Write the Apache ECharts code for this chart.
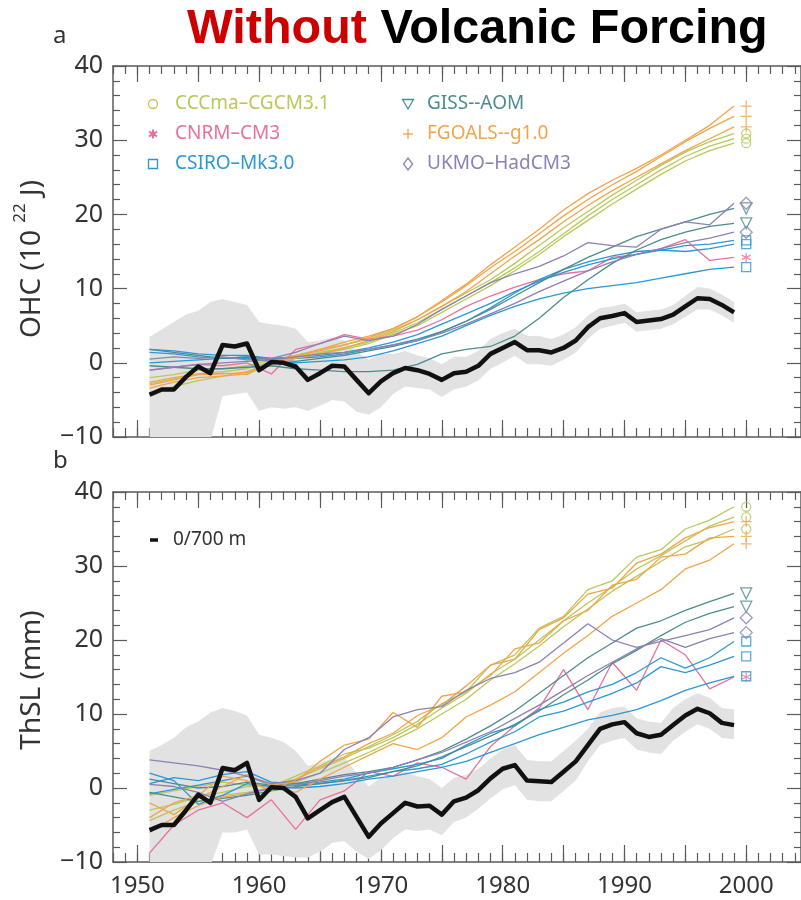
<!DOCTYPE html>
<html>
<head>
<meta charset="utf-8">
<title>Without Volcanic Forcing</title>
<script src="https://cdn.jsdelivr.net/npm/echarts@6/dist/echarts.min.js"></script>
<style>
  html, body { margin: 0; padding: 0; background: #fff; }
  #chart { width: 801px; height: 900px; }
</style>
</head>
<body>
<div id="chart"></div>
<script>
// years for the observed curve and for the model runs
const obsYears = [1951,1952,1953,1954,1955,1956,1957,1958,1959,1960,
  1961,1962,1963,1964,1965,1966,1967,1968,1969,1970,
  1971,1972,1973,1974,1975,1976,1977,1978,1979,1980,
  1981,1982,1983,1984,1985,1986,1987,1988,1989,1990,
  1991,1992,1993,1994,1995,1996,1997,1998,1999]
const runYears = [1951,1953,1955,1957,1959,1961,1963,1965,1967,1969,1971,1973,1975,
  1977,1979,1981,1983,1985,1987,1989,1991,1993,1995,1997,1999]
const labelYears = [1950, 1960, 1970, 1980, 1990, 2000]
const majorTickYears = [1950, 1955, 1960, 1965, 1970, 1975, 1980, 1985, 1990, 1995, 2000]

// panel a : ocean heat content 0-700 m (10^22 J)
const ohcObs = [-4.3,-3.6,-3.6,-1.9,-0.5,-1.4,2.4,2.2,2.6,-1.0,
  0.1,0.0,-0.5,-2.3,-1.4,-0.4,-0.5,-2.3,-4.1,-2.5,
  -1.4,-0.7,-1.0,-1.5,-2.3,-1.4,-1.2,-0.4,1.2,2.0,
  2.8,1.7,1.7,1.4,2.0,3.0,4.8,6.0,6.3,6.7,
  5.5,5.7,5.9,6.5,7.6,8.7,8.6,7.8,6.8]
const ohcLow = [-10.5,-10.5,-10.5,-10.5,-10.5,-10.5,-4.5,-4.2,-4.0,-6.5,
  -6.0,-6.2,-6.0,-6.5,-5.8,-5.0,-5.2,-6.6,-7.0,-6.0,
  -4.2,-3.2,-3.4,-3.6,-4.6,-3.6,-3.2,-2.4,-0.8,0.0,
  1.0,-0.2,-0.2,-0.4,0.4,1.4,3.2,4.6,5.0,5.4,
  4.2,4.4,4.6,5.2,6.2,7.2,7.2,6.4,5.4]
const ohcHigh = [3.5,4.5,5.5,6.5,7.0,8.2,8.6,8.2,7.8,5.5,
  5.2,5.0,4.6,2.8,3.0,3.4,3.0,1.6,0.4,1.2,
  1.2,1.6,1.0,0.6,-0.2,0.8,0.8,1.6,3.2,4.0,
  4.6,3.6,3.6,3.2,3.8,4.8,6.4,7.4,7.6,8.0,
  6.8,7.0,7.2,7.8,9.0,10.2,10.0,9.2,8.2]

const ohcCCCma = [
  [-2.0,-1.6,-1.0,-0.8,-0.4,0.4,1.0,1.8,2.4,3.2,4.4,5.8,7.6,9.4,11.2,13.4,15.8,18.2,20.4,22.6,24.6,26.6,28.4,29.8,30.9],
  [-2.8,-2.2,-1.5,-1.2,-0.8,0.2,0.8,1.4,2.0,2.8,4.0,5.4,7.2,9.0,10.8,12.8,15.0,17.4,19.8,22.0,24.0,26.0,27.8,29.2,30.2],
  [-4.0,-3.2,-2.4,-1.8,-1.2,0.0,0.6,1.2,1.8,2.6,3.8,5.0,6.8,8.6,10.4,12.4,14.6,17.0,19.2,21.4,23.4,25.4,27.2,28.6,29.6]
]
const ohcFGOALS = [
  [-3.0,-2.3,-1.6,-1.5,-1.3,0.0,0.8,1.8,2.8,3.6,4.6,6.2,8.4,10.6,13.2,15.6,18.0,20.6,22.8,24.6,26.2,28.0,30.0,32.0,34.6],
  [-2.6,-2.0,-1.5,-1.4,-1.6,0.2,1.0,1.6,2.4,3.4,4.6,6.2,8.2,10.4,12.8,15.0,17.4,19.8,22.0,24.0,25.8,27.8,29.8,31.6,33.2],
  [-3.4,-2.6,-2.0,-1.8,-1.5,-0.2,0.6,1.2,2.0,3.0,4.2,5.8,7.6,9.6,12.0,14.4,16.6,19.0,21.2,23.2,25.0,26.8,28.6,30.2,31.8]
]
const ohcUKMO = [
  [0.5,0.8,0.6,0.8,0.4,0.6,1.4,2.6,3.6,3.0,3.6,5.2,7.2,9.0,10.8,12.0,13.0,14.4,16.2,15.8,15.6,18.0,19.0,18.6,21.5],
  [-1.0,-0.6,-0.2,0.0,0.2,0.4,0.8,1.2,1.4,1.8,2.4,3.0,4.0,5.2,6.6,8.0,9.6,11.0,12.4,13.6,14.6,15.4,16.2,16.8,17.6]
]
const ohcGISS = [
  [1.8,1.4,1.0,0.6,0.8,0.4,0.2,0.6,1.0,1.6,2.2,3.0,4.2,5.6,7.2,9.0,10.8,12.6,14.2,15.6,17.0,18.0,19.0,20.0,20.8],
  [-0.4,-0.6,-0.8,-0.8,-0.6,-0.4,-0.8,-1.0,-1.2,-1.2,-1.0,-0.2,1.2,1.8,2.2,3.6,6.0,8.8,11.2,13.4,15.2,16.6,17.6,18.4,18.8]
]
const ohcCSIRO = [
  [1.8,1.6,1.2,1.0,1.0,0.6,0.8,1.0,1.4,2.0,2.8,3.8,5.2,6.6,8.0,9.6,11.0,12.2,13.2,14.0,14.6,15.2,15.8,16.0,16.5],
  [0.0,0.2,0.4,0.6,0.8,0.6,0.6,0.8,1.2,1.8,2.4,3.2,4.2,5.6,7.4,9.4,11.2,12.6,13.6,14.4,15.0,15.2,15.0,15.4,16.0],
  [1.4,1.2,0.8,0.6,0.6,0.2,0.0,0.2,0.4,0.8,1.6,2.6,3.6,5.0,6.4,7.6,8.6,9.4,10.0,10.4,10.8,11.4,12.0,12.6,12.9]
]
const ohcCNRM = [
  [-1.0,-0.6,-0.2,-0.4,0.0,-1.5,1.8,2.6,3.8,3.2,3.6,4.4,5.8,7.6,9.0,10.2,11.2,12.0,12.4,14.2,14.6,15.4,16.6,13.8,14.2]
]

// panel b : thermosteric sea level 0-700 m (mm)
const slObs = [-5.7,-5.0,-5.0,-3.0,-0.9,-2.0,2.7,2.4,3.4,-1.6,
  0.1,0.0,-1.2,-4.1,-3.0,-1.9,-1.2,-3.9,-6.6,-4.8,
  -3.4,-2.0,-2.5,-2.4,-3.6,-1.8,-1.3,-0.3,1.3,2.6,
  3.1,1.0,0.9,0.8,2.2,3.6,5.8,8.0,8.6,8.9,
  7.4,6.9,7.2,8.5,9.8,10.7,10.1,8.8,8.5]
const slLow = [-10.5,-10.5,-10.5,-10.5,-10.5,-10.5,-6.0,-6.0,-5.6,-9.0,
  -9.0,-9.2,-9.4,-9.4,-8.6,-7.4,-7.2,-8.6,-9.6,-8.4,
  -6.8,-5.6,-5.8,-5.6,-6.4,-4.6,-4.0,-2.8,-1.4,-0.2,
  0.4,-1.6,-1.8,-1.8,-0.4,1.0,3.6,5.8,6.4,6.8,
  5.2,4.8,4.6,6.4,7.6,8.6,8.0,6.8,6.6]
const slHigh = [5.0,5.8,6.8,8.2,9.0,10.2,10.8,10.4,9.8,7.2,
  6.8,6.2,5.0,3.0,3.4,4.0,4.2,2.0,0.2,1.4,
  1.6,2.2,1.6,1.2,0.0,1.4,1.8,2.6,4.0,5.2,
  5.8,3.8,3.6,3.6,5.0,6.4,8.0,10.2,10.8,11.0,
  9.4,9.0,8.8,10.8,12.0,12.8,12.2,10.8,10.6]

const slCCCma = [
  [-3.0,-2.2,-1.2,-0.6,0.2,0.4,1.2,2.6,4.0,5.6,7.2,9.0,11.4,13.0,16.6,18.0,21.6,23.2,26.8,28.0,31.2,32.2,35.0,36.2,38.0],
  [-1.0,-0.4,0.2,0.8,0.4,0.2,1.6,3.0,4.6,5.4,6.8,8.6,10.8,12.8,15.4,17.4,20.0,22.6,25.0,27.2,29.6,31.4,33.4,35.4,36.6],
  [-4.4,-3.0,-1.8,-1.0,-0.6,0.0,0.8,2.0,3.4,4.8,6.4,8.0,10.0,12.0,14.6,16.8,19.2,21.8,24.2,26.6,28.6,30.6,32.6,33.6,35.0]
]
const slFGOALS = [
  [-4.0,-2.0,-1.0,1.6,1.0,-0.4,1.2,2.8,4.2,6.0,7.4,9.8,11.2,13.8,16.6,17.4,21.4,23.0,26.2,27.0,30.4,31.6,33.8,35.2,36.0],
  [-2.0,-3.6,-1.4,0.2,1.8,0.4,0.8,3.6,5.8,6.6,10.2,8.2,12.4,13.0,15.2,18.8,19.6,22.6,24.0,27.4,28.2,31.2,31.6,33.8,34.0],
  [-6.0,-4.0,-2.4,-1.2,-0.8,0.2,-0.6,1.2,2.8,4.4,6.0,5.2,6.8,9.6,11.2,13.0,15.6,18.2,20.6,23.2,25.0,26.8,29.6,30.8,33.0]
]
const slUKMO = [
  [3.8,3.4,3.0,2.4,1.6,0.6,1.0,2.0,5.2,6.8,9.6,10.6,11.0,13.2,14.8,15.6,17.0,19.6,22.2,20.0,19.0,19.8,20.6,21.4,23.0],
  [0.5,0.2,-0.6,-1.8,-0.8,0.0,0.4,1.0,1.6,2.0,2.8,3.8,4.8,6.2,7.6,9.4,11.2,13.2,15.2,17.0,18.8,20.2,19.0,20.2,21.0]
]
const slGISS = [
  [1.2,0.6,0.0,0.2,0.8,0.4,0.6,1.2,1.8,2.2,2.8,3.8,5.0,6.6,8.4,10.4,12.8,15.2,17.6,19.6,21.6,22.6,24.0,25.2,26.3],
  [-0.6,-1.2,-1.8,-1.4,-1.0,-0.4,0.2,0.6,1.0,1.4,2.2,3.0,4.2,5.6,7.0,8.6,10.4,12.6,14.6,16.8,18.6,20.6,22.4,23.6,24.5]
]
const slCSIRO = [
  [0.6,1.4,1.0,1.8,2.2,0.8,0.6,0.8,1.2,2.0,2.6,3.2,4.0,5.8,7.4,8.4,10.6,11.6,13.0,14.0,15.6,17.6,16.2,17.6,19.8],
  [-0.8,-0.2,0.4,1.0,1.6,0.4,0.4,0.6,1.0,1.6,2.2,2.6,3.2,4.6,6.2,7.6,9.6,10.4,11.6,12.8,14.2,16.4,15.6,16.6,17.8],
  [2.0,1.0,-2.2,-1.0,0.6,0.2,0.0,0.2,0.6,1.2,1.6,2.2,2.8,3.6,4.8,6.0,7.2,8.2,9.2,9.8,10.6,11.8,13.2,14.2,15.1]
]
const slCNRM = [
  [-8.8,-5.0,-3.0,-2.0,-4.0,-1.6,-5.6,-1.6,-0.4,2.2,1.6,3.4,2.8,1.2,5.6,8.4,10.8,16.0,10.6,17.0,13.2,20.0,18.0,13.4,15.0]
]

const FONT = '"Noto Sans", sans-serif'
const TITLE_FONT = '"Liberation Sans", Arial, sans-serif'
const AXIS = '#5a5a5a'
const TEXT = '#333'

const PLUS = 'path://M5,0L5,10M0,5L10,5'
const STAR = 'path://M5,0L5,10M0.7,2.5L9.3,7.5M0.7,7.5L9.3,2.5'

// model styles
const models = [
  { name: 'CCCma\u2013CGCM3.1', color: '#b8c85a', symbol: 'circle', size: 9, a: ohcCCCma, b: slCCCma },
  { name: 'CNRM\u2013CM3', color: '#e8709a', symbol: STAR, size: 9, a: ohcCNRM, b: slCNRM },
  { name: 'CSIRO\u2013Mk3.0', color: '#2b97d6', symbol: 'rect', size: 9, a: ohcCSIRO, b: slCSIRO },
  { name: 'GISS--AOM', color: '#4d8c8c', symbol: 'triangle', rotate: 180, size: 11, a: ohcGISS, b: slGISS },
  { name: 'FGOALS--g1.0', color: '#f2a44a', symbol: PLUS, size: 11, a: ohcFGOALS, b: slFGOALS },
  { name: 'UKMO\u2013HadCM3', color: '#8c80b4', symbol: 'diamond', size: 12, a: ohcUKMO, b: slUKMO }
]

const minorTickYears = []
for (let y = 1948; y <= 2004; y++) minorTickYears.push(y)

function xAxes(grid, withLabels) {
  const line = { color: AXIS, width: 1.2 }
  const base = { gridIndex: grid, type: 'value', min: 1948, max: 2004.5, splitLine: { show: false } }
  return [
    { ...base, position: 'bottom',
      axisLine: { onZero: false, lineStyle: { color: AXIS, width: 1.5 } },
      axisTick: { inside: true, length: 9, customValues: minorTickYears, lineStyle: line },
      axisLabel: { show: withLabels, customValues: labelYears, fontSize: 24, color: TEXT,
        fontFamily: FONT, margin: 12, formatter: v => String(v) } },
    { ...base, position: 'bottom',
      axisLine: { show: false, onZero: false },
      axisTick: { inside: true, length: 17, customValues: majorTickYears, lineStyle: line },
      axisLabel: { show: false } },
    { ...base, position: 'top',
      axisLine: { onZero: false, lineStyle: { color: AXIS, width: 1.5 } },
      axisTick: { inside: true, length: 8, customValues: minorTickYears, lineStyle: line },
      axisLabel: { show: false } },
    { ...base, position: 'top',
      axisLine: { show: false, onZero: false },
      axisTick: { inside: true, length: 16, customValues: majorTickYears, lineStyle: line },
      axisLabel: { show: false } }
  ]
}

function yAxes(grid) {
  const line = { color: AXIS, width: 1.2 }
  const base = {
    gridIndex: grid, type: 'value', min: -10, max: 40, interval: 10,
    splitLine: { show: false },
    axisLine: { show: true, onZero: false, lineStyle: { color: AXIS, width: 1.5 } },
    axisTick: { inside: true, length: 14, lineStyle: line },
    minorTick: { show: true, splitNumber: 5, length: 7, lineStyle: line }
  }
  return [
    { ...base, position: 'left',
      axisLabel: { fontSize: 25, color: TEXT, fontFamily: FONT, margin: 10,
        formatter: v => (v < 0 ? '\u2212' + (-v) : String(v)) } },
    { ...base, position: 'right', axisLabel: { show: false } }
  ]
}

function panelSeries(xi, yi, obs, low, high, key) {
  const list = []
  const common = { xAxisIndex: xi, yAxisIndex: yi, symbol: 'none', silent: true }
  // uncertainty band of the observations, one polygon through the axis scales
  list.push({ type: 'custom', xAxisIndex: xi, yAxisIndex: yi, silent: true, clip: true, z: 1,
    data: obsYears.map((y, i) => [y, low[i], high[i]]),
    encode: { x: 0, y: [1, 2] },
    renderItem: (params, api) => {
      if (params.dataIndex !== 0) return
      const upper = obsYears.map((y, i) => api.coord([y, high[i]]))
      const lower = obsYears.map((y, i) => api.coord([y, low[i]])).reverse()
      return { type: 'polygon', shape: { points: upper.concat(lower) }, style: { fill: '#e2e2e2' } }
    } })
  models.forEach(m => {
    m[key].forEach(run => {
      list.push({ ...common, type: 'line', z: 2,
        data: runYears.map((y, i) => [y, run[i]]),
        lineStyle: { color: m.color, width: 1.3 } })
    })
    list.push({ xAxisIndex: xi, yAxisIndex: yi, type: 'scatter', z: 3, silent: true,
      data: m[key].map(run => [2000, run[run.length - 1]]),
      symbol: m.symbol, symbolSize: m.size, symbolRotate: m.rotate || 0,
      itemStyle: { color: 'rgba(0,0,0,0)', borderColor: m.color, borderWidth: 1.3 } })
  })
  list.push({ ...common, type: 'line', z: 4,
    data: obsYears.map((y, i) => [y, obs[i]]),
    lineStyle: { color: '#111', width: 4.5, join: 'round' } })
  return list
}

// legend drawn as graphics
function legendMarker(symbol, cx, cy, color) {
  const st = { fill: 'none', stroke: color, lineWidth: 1.3 }
  if (symbol === 'circle') return { type: 'circle', shape: { cx, cy, r: 4.5 }, style: st }
  if (symbol === 'rect') return { type: 'rect', shape: { x: cx - 4.5, y: cy - 4.5, width: 9, height: 9 }, style: st }
  if (symbol === 'triangle') return { type: 'polygon', shape: { points: [[cx - 5.5, cy - 4.5], [cx + 5.5, cy - 4.5], [cx, cy + 5]] }, style: st }
  if (symbol === 'diamond') return { type: 'polygon', shape: { points: [[cx, cy - 6], [cx + 4.5, cy], [cx, cy + 6], [cx - 4.5, cy]] }, style: st }
  if (symbol === PLUS) return { type: 'group', children: [
    { type: 'line', shape: { x1: cx - 5, y1: cy, x2: cx + 5, y2: cy }, style: st },
    { type: 'line', shape: { x1: cx, y1: cy - 5, x2: cx, y2: cy + 5 }, style: st }] }
  return { type: 'group', children: [
    { type: 'line', shape: { x1: cx, y1: cy - 4.5, x2: cx, y2: cy + 4.5 }, style: { ...st, lineWidth: 2 } },
    { type: 'line', shape: { x1: cx - 4, y1: cy - 2.3, x2: cx + 4, y2: cy + 2.3 }, style: { ...st, lineWidth: 2 } },
    { type: 'line', shape: { x1: cx - 4, y1: cy + 2.3, x2: cx + 4, y2: cy - 2.3 }, style: { ...st, lineWidth: 2 } }] }
}

const graphics = []
models.forEach((m, i) => {
  const col = i < 3 ? 0 : 1
  const row = i % 3
  const mx = col === 0 ? 153 : 408
  const tx = col === 0 ? 175 : 427
  const cy = 104 + row * 30
  graphics.push(legendMarker(m.symbol, mx, cy, m.color))
  graphics.push({ type: 'text', x: tx, y: cy, style: { text: m.name, fill: m.color,
    fontSize: 19, fontFamily: FONT, verticalAlign: 'middle' } })
})

graphics.push(
  { type: 'text', x: 187, y: 30, style: {
    text: '{r|Without} {k|Volcanic Forcing}', verticalAlign: 'middle',
    fontSize: 48.5, fontWeight: 'bold', fontFamily: TITLE_FONT,
    rich: {
      r: { fill: '#cc0000', fontSize: 48.5, fontWeight: 'bold', fontFamily: TITLE_FONT },
      k: { fill: '#000', fontSize: 48.5, fontWeight: 'bold', fontFamily: TITLE_FONT }
    } } },
  { type: 'text', x: 53, y: 36, style: { text: 'a', fill: TEXT, fontSize: 24, fontFamily: FONT, verticalAlign: 'middle' } },
  { type: 'text', x: 53, y: 461, style: { text: 'b', fill: TEXT, fontSize: 24, fontFamily: FONT, verticalAlign: 'middle' } },
  { type: 'text', x: 29, y: 259, rotation: Math.PI / 2, style: {
    text: '{m|OHC (10 }{s|22}{m| J)}', align: 'center', verticalAlign: 'middle', fill: TEXT,
    fontSize: 28, fontFamily: FONT,
    rich: {
      m: { fontSize: 28, fontFamily: FONT, fill: TEXT, lineHeight: 34, verticalAlign: 'bottom' },
      s: { fontSize: 17, fontFamily: FONT, fill: TEXT, lineHeight: 34, verticalAlign: 'top' }
    } } },
  { type: 'text', x: 32, y: 680, rotation: Math.PI / 2, style: {
    text: 'ThSL (mm)', align: 'center', verticalAlign: 'middle', fill: TEXT, fontSize: 28, fontFamily: FONT } },
  { type: 'line', shape: { x1: 150, y1: 540, x2: 158, y2: 540 }, style: { stroke: '#111', lineWidth: 3.5 } },
  { type: 'text', x: 173, y: 540, style: { text: '0/700 m', fill: TEXT, fontSize: 19, fontFamily: FONT, verticalAlign: 'middle' } }
)

const chart = echarts.init(document.getElementById('chart'), null, { renderer: 'canvas' })
chart.setOption({
  animation: false,
  backgroundColor: '#fff',
  grid: [
    { left: 113, top: 66, width: 689, height: 371 },
    { left: 113, top: 492, width: 689, height: 370 }
  ],
  xAxis: [...xAxes(0, false), ...xAxes(1, true)],
  yAxis: [...yAxes(0), ...yAxes(1)],
  series: [
    ...panelSeries(0, 0, ohcObs, ohcLow, ohcHigh, 'a'),
    ...panelSeries(4, 2, slObs, slLow, slHigh, 'b')
  ],
  graphic: graphics
})
</script>
</body>
</html>
